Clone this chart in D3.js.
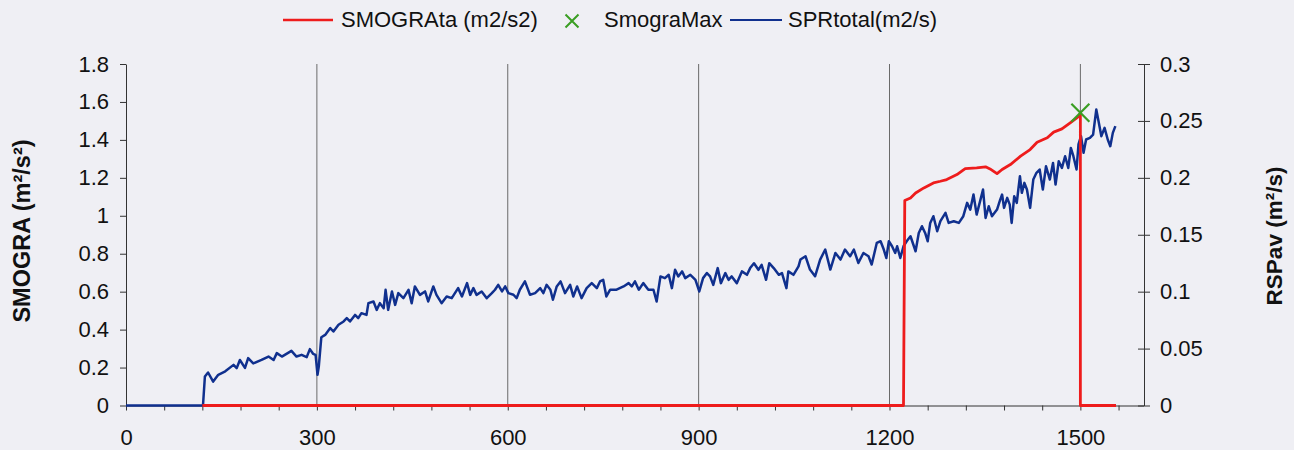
<!DOCTYPE html>
<html>
<head>
<meta charset="utf-8">
<script src="https://cdn.jsdelivr.net/npm/d3@7"></script>
<style>
  html, body { margin: 0; padding: 0; background: #efeff4; }
  svg { display: block; }
  text { font-family: "Liberation Sans", Arial, sans-serif; fill: #111; }
</style>
</head>
<body>
<svg id="chart" width="1294" height="450"></svg>
<script>
// Time axis (s)
const xTickValues = d3.range(0, 1561, 60);
const xLabelValues = [0, 300, 600, 900, 1200, 1500];
const leftTicks = [0, 0.2, 0.4, 0.6, 0.8, 1, 1.2, 1.4, 1.6, 1.8];
const rightTicks = [0, 0.05, 0.1, 0.15, 0.2, 0.25, 0.3];
const gridValues = [300, 600, 900, 1200, 1500];

const seriesNames = ["SMOGRAta (m2/s2)", "SmograMax", "SPRtotal(m2/s)"];

// SMOGRAta (m2/s2), left axis
const smograTime = [120, 1222, 1224, 1233, 1241, 1254, 1269, 1280, 1290, 1306, 1319, 1337, 1351, 1358, 1369, 1377, 1390, 1406, 1421, 1432, 1448, 1458, 1471, 1484, 1497, 1500, 1500, 1556];
const smograValue = [0, 0, 1.08, 1.094, 1.12, 1.147, 1.173, 1.182, 1.191, 1.217, 1.249, 1.252, 1.258, 1.247, 1.222, 1.244, 1.27, 1.314, 1.349, 1.388, 1.411, 1.441, 1.458, 1.49, 1.522, 1.543, 0, 0];

// SmograMax marker
const maxTime = [1500];
const maxValue = [1.543];

// SPRtotal (m2/s), right axis
const sprTime = [0, 121, 124, 129, 137, 145, 156, 169, 174, 179, 187, 192, 200, 213, 224, 232, 237, 245, 260, 268, 276, 284, 289, 294, 298, 301, 303, 307, 313, 321, 326, 334, 342, 347, 352, 360, 365, 370, 378, 381, 389, 394, 399, 405, 408, 412, 418, 423, 428, 436, 444, 449, 454, 462, 470, 475, 483, 488, 496, 504, 512, 522, 528, 536, 541, 546, 551, 559, 567, 575,
  580, 585, 591, 596, 601, 609, 614, 619, 627, 635, 643, 651, 656, 661, 667, 671, 677, 683, 690, 698, 703, 709, 716, 724, 732, 740, 745, 750, 755, 761, 771, 782, 790, 795, 800, 806, 813, 821, 829, 834, 840, 847, 853, 858, 863, 868, 874, 879, 887, 895, 901, 907, 913, 918, 923, 930, 935, 942, 947, 952, 960, 968, 976, 981, 987, 994, 999, 1006, 1011, 1018, 1026, 1031, 1038, 1041, 1049, 1057,
  1060, 1068, 1075, 1083, 1091, 1099, 1107, 1115, 1123, 1130, 1138, 1144, 1151, 1159, 1167, 1172, 1180, 1186, 1191, 1195, 1199, 1204, 1209, 1212, 1217, 1222, 1227, 1233, 1241, 1246, 1251, 1256, 1260, 1264, 1269, 1275, 1280, 1288, 1293, 1301, 1309, 1316, 1322, 1327, 1332, 1337, 1343, 1347, 1351, 1356, 1361, 1369, 1374, 1377, 1380, 1385, 1389, 1392, 1396, 1400, 1405, 1408, 1412, 1416, 1421, 1426, 1431, 1436, 1441, 1446, 1452, 1457, 1461, 1466, 1471, 1476, 1481, 1485, 1489, 1494, 1497, 1501, 1505, 1509, 1515, 1520, 1525, 1529, 1533, 1538, 1543, 1547, 1551, 1555];
const sprValue = [0, 0, 0.0255, 0.029, 0.021, 0.027, 0.030, 0.0357, 0.0328, 0.040, 0.033, 0.0416, 0.037, 0.040, 0.043, 0.040, 0.046, 0.043, 0.048, 0.043, 0.0445, 0.0425, 0.0495, 0.0454, 0.0445, 0.027, 0.0342, 0.060, 0.062, 0.068, 0.065, 0.0709, 0.0738, 0.0767, 0.0738, 0.0796, 0.0767, 0.0811, 0.0796, 0.0899, 0.0914, 0.084, 0.0899, 0.0855, 0.1016, 0.084, 0.1002, 0.0884, 0.0987, 0.0943, 0.1016, 0.0899, 0.1046, 0.0972, 0.1002, 0.0914, 0.1046, 0.0972, 0.0899, 0.0958, 0.0943, 0.1031, 0.0958, 0.1075, 0.0972, 0.1031, 0.0972, 0.1002, 0.0943, 0.0987,
  0.1017, 0.106, 0.1002, 0.1046, 0.0987, 0.0973, 0.0943, 0.1017, 0.109, 0.0973, 0.0987, 0.1031, 0.0987, 0.106, 0.1017, 0.0929, 0.1046, 0.109, 0.0987, 0.106, 0.0958, 0.1046, 0.0943, 0.1031, 0.1075, 0.1031, 0.109, 0.1104, 0.0958, 0.1017, 0.1017, 0.1046, 0.1075, 0.1046, 0.109, 0.1017, 0.1075, 0.1017, 0.1017, 0.0914, 0.1134, 0.1119, 0.1148, 0.1031, 0.1192, 0.1134, 0.1178, 0.1119, 0.1148, 0.1104, 0.1002, 0.1119, 0.1163, 0.1134, 0.106, 0.1207, 0.1075, 0.1163, 0.1104, 0.1134, 0.1075, 0.1178, 0.1148, 0.1207, 0.125, 0.1192, 0.1236, 0.1104, 0.125, 0.1207, 0.1148, 0.1163, 0.1031, 0.1178, 0.1148, 0.1222,
  0.1282, 0.1311, 0.1194, 0.1135, 0.1282, 0.137, 0.1194, 0.134, 0.1282, 0.137, 0.1311, 0.137, 0.1252, 0.134, 0.1311, 0.1238, 0.1428, 0.1443, 0.137, 0.1296, 0.1443, 0.1399, 0.134, 0.1399, 0.1296, 0.1399, 0.1443, 0.1487, 0.1355, 0.1516, 0.1575, 0.1516, 0.1443, 0.1604, 0.1663, 0.1531, 0.1619, 0.1692, 0.1604, 0.1619, 0.1604, 0.1663, 0.178, 0.1721, 0.1853, 0.1677, 0.1809, 0.1897, 0.1648, 0.175, 0.1663, 0.1721, 0.1809, 0.1853, 0.1736, 0.1824, 0.1765, 0.1604, 0.1838, 0.178, 0.2014, 0.1868, 0.1956, 0.1897, 0.1736, 0.1985, 0.2044, 0.2073, 0.1897, 0.2102, 0.1985, 0.2131, 0.1941, 0.2146, 0.2087, 0.219, 0.2087, 0.2263, 0.219, 0.2073, 0.2293, 0.2366, 0.222, 0.2337, 0.2351, 0.238, 0.26, 0.2483, 0.2366, 0.2439, 0.2337, 0.2278, 0.2395, 0.2454];

const colors = { smogra: "#ee1c1c", max: "#3a9e22", spr: "#10308e" };

const svg = d3.select("#chart");
const x = d3.scaleLinear().domain([0, 1600]).range([126, 1144]);
const yL = d3.scaleLinear().domain([0, 1.8]).range([405.5, 64]);
const yR = d3.scaleLinear().domain([0, 0.3]).range([405.5, 64]);

const fmt = d => (d === 0 ? "0" : String(+d.toFixed(2)));

// vertical gridlines
svg.append("g").selectAll("line").data(gridValues).join("line")
  .attr("x1", d => x(d)).attr("x2", d => x(d))
  .attr("y1", yL(1.8)).attr("y2", yL(0))
  .attr("stroke", "#6a6a6a").attr("stroke-width", 1);

// x axis
const gx = svg.append("g").attr("transform", `translate(0,${yL(0)})`)
  .call(d3.axisBottom(x).tickValues(xTickValues).tickSizeInner(5).tickSizeOuter(0)
    .tickFormat(d => xLabelValues.includes(d) ? String(d) : ""));
gx.select(".domain").attr("d", `M${x(0)},0.5H${x(1600)}`);

// left axis
const gl = svg.append("g").attr("transform", `translate(${x(0)},0)`)
  .call(d3.axisLeft(yL).tickValues(leftTicks).tickSizeInner(6).tickSizeOuter(0).tickFormat(fmt));

// right axis with crossing ticks
const gr = svg.append("g").attr("transform", `translate(${x(1600)},0)`)
  .call(d3.axisRight(yR).tickValues(rightTicks).tickSizeInner(6).tickSizeOuter(0).tickFormat(fmt));
gr.selectAll(".tick line").attr("x1", -6).attr("x2", 6);

[gx, gl, gr].forEach(g => {
  g.selectAll(".domain, .tick line").attr("stroke", "#333").attr("stroke-width", 1);
  g.selectAll(".tick text").attr("font-size", 22).attr("fill", "#111")
    .attr("font-family", "'Liberation Sans', Arial, sans-serif");
});
gx.selectAll(".tick text").attr("dy", 0).attr("y", 39);
gl.selectAll(".tick text").attr("x", -17);
gr.selectAll(".tick text").attr("x", 16);

// SPRtotal line (right axis)
const sprData = sprTime.map((t, i) => [t, sprValue[i]]);
svg.append("path").datum(sprData)
  .attr("fill", "none").attr("stroke", colors.spr).attr("stroke-width", 2.5)
  .attr("stroke-linejoin", "round")
  .attr("d", d3.line().x(d => x(d[0])).y(d => yR(d[1])));

// SMOGRAta line (left axis)
const smData = smograTime.map((t, i) => [t, smograValue[i]]);
svg.append("path").datum(smData)
  .attr("fill", "none").attr("stroke", colors.smogra).attr("stroke-width", 2.8)
  .attr("stroke-linejoin", "round")
  .attr("d", d3.line().x(d => x(d[0])).y(d => yL(d[1])));

// SmograMax marker
const cross = (g, cx, cy, r, w) => {
  g.append("path")
    .attr("d", `M${cx - r},${cy - r}L${cx + r},${cy + r}M${cx - r},${cy + r}L${cx + r},${cy - r}`)
    .attr("stroke", colors.max).attr("stroke-width", w).attr("fill", "none");
};
maxTime.forEach((t, i) => cross(svg, x(t), yL(maxValue[i]), 9, 2.2));

// axis titles
svg.append("text").attr("transform", "translate(30,231) rotate(-90)")
  .attr("text-anchor", "middle").attr("font-size", 23.5).attr("font-weight", "bold")
  .text("SMOGRA (m²/s²)");
svg.append("text").attr("transform", "translate(1282,236) rotate(-90)")
  .attr("text-anchor", "middle").attr("font-size", 22.5).attr("font-weight", "bold")
  .text("RSPav (m²/s)");

// legend
const lg = svg.append("g").attr("font-size", 22);
lg.append("line").attr("x1", 283).attr("x2", 333).attr("y1", 20).attr("y2", 20)
  .attr("stroke", colors.smogra).attr("stroke-width", 2.5);
lg.append("text").attr("x", 341).attr("y", 27).text(seriesNames[0]);
cross(lg, 572, 21, 6.5, 2);
lg.append("text").attr("x", 604).attr("y", 27).text(seriesNames[1]);
lg.append("line").attr("x1", 730).attr("x2", 782).attr("y1", 20).attr("y2", 20)
  .attr("stroke", colors.spr).attr("stroke-width", 2);
lg.append("text").attr("x", 788).attr("y", 27).text(seriesNames[2]);
</script>
</body>
</html>
